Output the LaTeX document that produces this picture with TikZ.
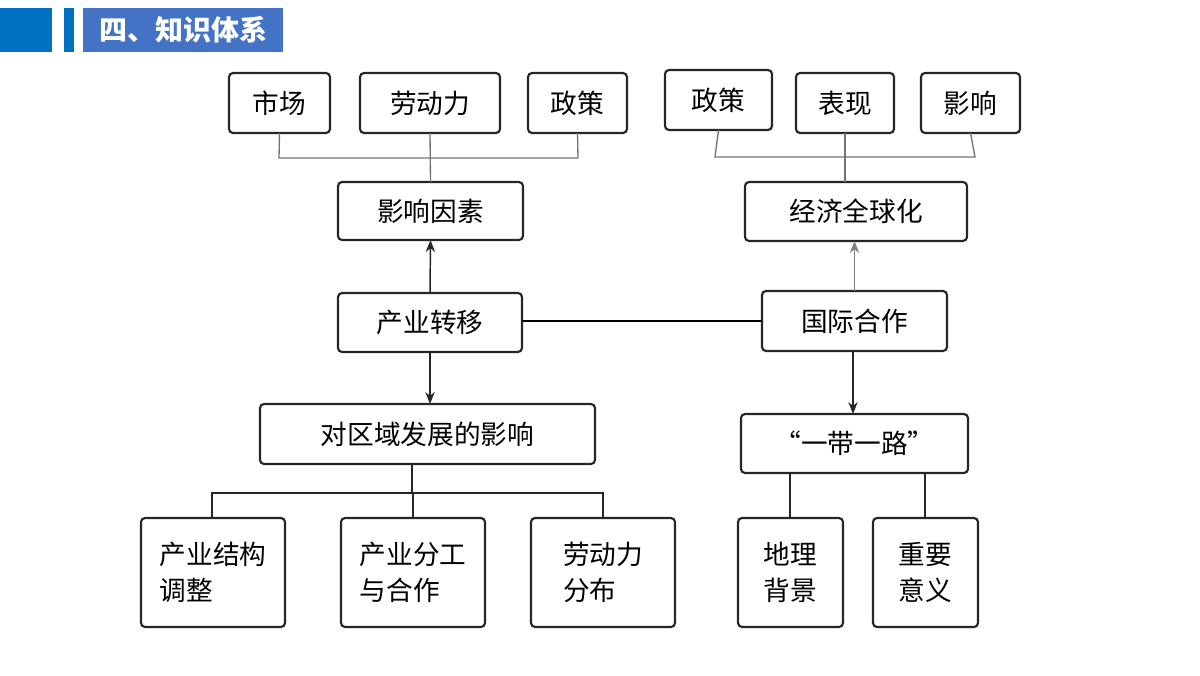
\documentclass[tikz,border=0pt]{standalone}
\usepackage{fontspec}
\newfontfamily\cjk{Noto Sans CJK SC}
\usetikzlibrary{arrows.meta}
\definecolor{hdark}{HTML}{0070C0}
\definecolor{hlab}{HTML}{4472C4}
\begin{document}
\begin{tikzpicture}[x=0.75pt,y=-0.75pt,
 bx/.style={draw=black!85,line width=1.6pt,rounded corners=3pt},
 tx/.style={font=\cjk\fontsize{20}{27}\selectfont,align=left},
 ln/.style={draw=black!55,line width=1pt},
 ar/.style={draw=black!85,line width=1.1pt,-{Stealth[length=9pt,width=7pt]}}]
\useasboundingbox (0,0) rectangle (1200,675);
\fill[hdark] (0,8) rectangle (52,52);
\fill[hdark] (64,8) rectangle (74,52);
\fill[hlab] (83,8) rectangle (283,52);
\node[text=white,font=\cjk\bfseries\fontsize{21}{24}\selectfont,inner sep=0] (title) at (183,30) {四、知识体系};
\newcommand\B[6]{\path[bx] (#2,#3) rectangle (#4,#5); \node[tx] (#1) at ({(#2+#4)/2},{(#3+#5)/2}) {#6}; \coordinate (#1t) at ({(#2+#4)/2},#3); \coordinate (#1b) at ({(#2+#4)/2},#5);}
\B{sc}{229}{73}{330}{133}{市场}
\B{ld}{360}{73}{500}{133}{劳动力}
\B{zc}{528}{73}{627}{133}{政策}
\B{zr}{665}{70}{772}{130}{政策}
\B{bx}{796}{73}{894}{133}{表现}
\B{yx}{921}{73}{1020}{133}{影响}
\B{ys}{338}{182}{523}{240}{影响因素}
\B{jj}{745}{182}{967}{241}{经济全球化}
\B{cy}{338}{293}{522}{352}{产业转移}
\B{gj}{762}{291}{947}{351}{国际合作}
\B{dq}{260}{404}{595}{464}{对区域发展的影响}
\B{yd}{741}{414}{968}{473}{“一带一路”}
\B{jg}{141}{518}{285}{627}{产业结构\\调整}
\B{fg}{341}{518}{485}{627}{产业分工\\与合作}
\B{fb}{531}{518}{675}{627}{劳动力\\分布}
\B{dl}{738}{518}{843}{627}{地理\\背景}
\B{zy}{873}{518}{978}{627}{重要\\意义}
\draw[ln] (scb) -- (279,158) -- (578,158) -- (zcb);
\draw[ln] (ldb) -- (yst);
\draw[ln] (zrb) -- (715,157) -- (975,157) -- (yxb);
\draw[ln] (845,133) -- (845,182);
\draw[ar] (cyt) -- (ysb);
\draw[ar,draw=black!50] (gjt) -- (gjt |- jjb);
\draw[line width=1.1pt] (522,321) -- (762,321);
\draw[ar] (430,352) -- (430,404);
\draw[ar] (853,351) -- (853,414);
\draw[line width=1.1pt,black!85] (412,464) -- (412,493);
\draw[line width=1.1pt,black!85] (212,518) -- (212,493) -- (603,493) -- (603,518);
\draw[line width=1.1pt,black!85] (413,518) -- (413,493);
\draw[line width=1.1pt,black!85] (790,473) -- (790,518);
\draw[line width=1.1pt,black!85] (925,473) -- (925,518);
\end{tikzpicture}
\end{document}
